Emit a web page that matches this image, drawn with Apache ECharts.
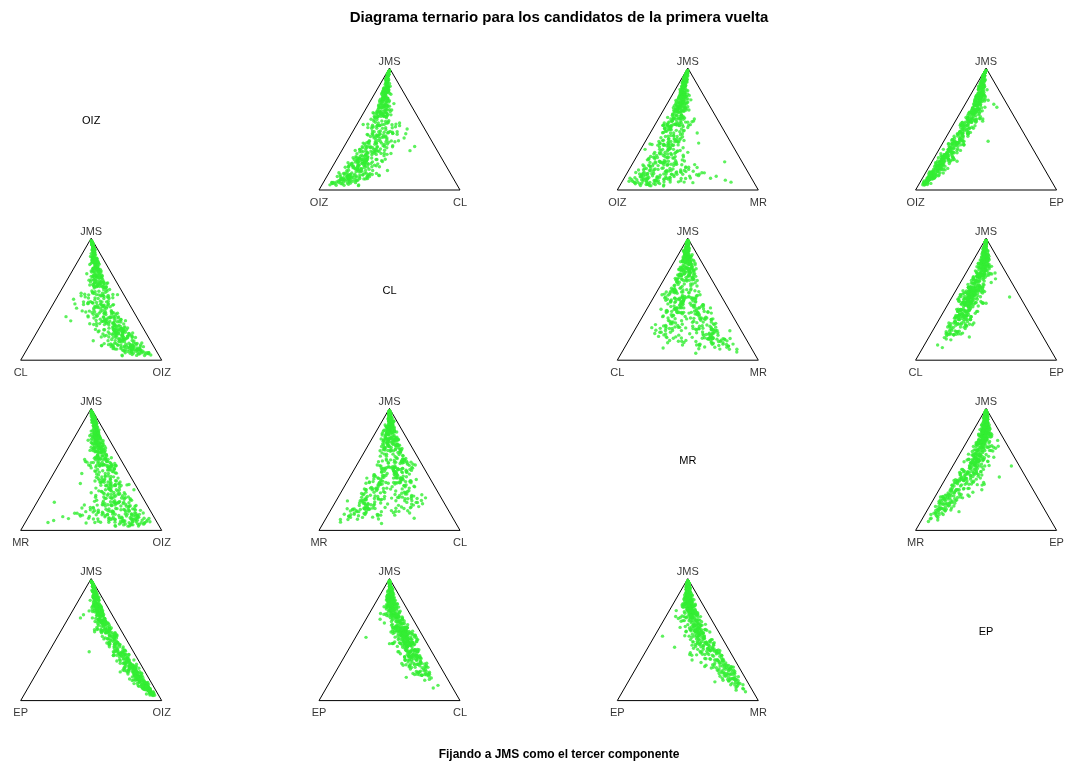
<!DOCTYPE html>
<html>
<head>
<meta charset="utf-8">
<script src="https://cdn.jsdelivr.net/npm/echarts@6.0.0/dist/echarts.min.js"></script>
<style>
  html, body { margin: 0; padding: 0; background: #fff; }
  #chart { width: 1067px; height: 762px; }
</style>
</head>
<body>
<div id="chart"></div>
<script>
// candidates besides JMS (rows = left vertex, columns = right vertex)
const candidates = ["OIZ", "CL", "MR", "EP"];
const topLabel = "JMS";

// vote shares per polling station, one entry per station
const jms = [
  3,5,4,7,4,9,6,3,8,5,3,6,4,10,7,3,5,8,4,6,
  6,9,4,11,7,12,5,8,10,5,7,9,6,11,4,8,12,5,10,7,
  12,15,18,11,20,14,22,16,13,19,10,17,21,15,12,18,14,20,16,13,
  17,24,19,27,15,22,26,18,21,28,16,25,20,23,19,27,17,24,22,26,
  28,32,21,35,25,30,23,33,27,31,24,34,29,22,36,26,30,33,25,28,
  38,42,31,45,35,40,33,44,37,41,32,39,43,36,34,46,30,42,38,35,
  48,52,41,55,45,50,43,54,47,51,42,49,53,46,44,56,40,52,48,45,
  58,53,61,55,50,59,56,62,52,57,54,60,51,58,63,55,53,59,56,61,
  62,66,58,70,64,68,60,67,63,69,57,65,71,61,66,59,68,64,70,62,
  70,74,66,77,72,68,75,71,78,65,73,69,76,67,74,71,63,79,72,70,
  78,82,75,85,80,77,83,79,86,76,81,84,78,88,80,74,82,87,79,83,
  88,91,85,93,89,86,92,90,87,94,84,90,91,88,86,93,89,85,92,90,
  5,8,5,10,6,12,5,9,7,14,5,11,8,6,13,5,9,7,10,15,
  18,22,15,25,20,16,28,19,24,17,21,26,14,23,20,30,18,27,22,16,
  30,40,45,35,20,25,50,28,33,55,18,42,38,26,60,22,48,36,15,31,
  8,14,22,11,27,18,9,25,16,30,12,20,24,10,28,15,19,13,26,21,
  33,45,38,52,41,58,36,49,44,55,31,47,39,60,42,35,53,46,37,50,
  58,72,64,80,61,76,68,83,57,70,66,78,63,74,85,60,69,77,62,73,
  4,7,12,6,15,9,5,18,8,11,6,14,10,7,16,5,13,9,20,8,
  82,88,76,91,79,85,90,77,86,80,92,78,84,89,81,87,75,83,90,86,
  65,72,61,78,68,74,63,70,76,66,79,62,71,67,75,64,69,73,77,60,
  90,94,87,95,92,89,93,88,96,91,86,94,90,93,89,95,92,88,91,94,
  45,58,50,63,42,55,48,61,53,46,60,44,57,51,64,47,54,59,43,52,
  25,38,30,42,22,35,28,44,33,27,40,24,36,31,45,29,37,26,41,34,
  7,10,6,13,8,11,9,14,6,12,8,10,15,7,11,9,13,6,10,12,
  30,42,26,48,35,38,28,45,33,40,27,50,36,31,44,29,39,34,47,32,
  55,62,48,68,52,58,45,65,60,50,70,47,57,63,53,66,49,59,64,56,
  5,6,8,4,10,7,12,9,6,15,20,25,8,11,35,40,18,7,9,14
];
const oiz = [
  67,67,63,71,64,66,74,59,66,65,64,71,67,63,62,61,71,71,63,66,
  62,65,66,65,58,67,68,63,59,64,68,63,60,67,66,66,65,59,61,66,
  60,60,60,59,60,60,54,57,56,58,61,62,54,57,62,63,54,53,60,57,
  59,54,53,53,59,55,47,61,54,43,62,57,50,53,55,52,56,53,59,49,
  46,46,52,45,51,41,56,42,50,41,57,40,41,56,40,47,49,44,47,47,
  36,36,41,31,45,33,44,31,34,38,42,37,35,36,41,34,43,35,36,41,
  28,27,32,23,30,30,31,23,25,30,34,26,26,27,34,26,34,25,27,35,
  22,24,21,21,29,22,22,21,23,23,23,24,27,21,18,21,27,23,22,22,
  18,16,19,14,17,11,23,13,15,16,19,17,15,18,15,19,15,16,14,20,
  14,12,16,11,13,15,12,13,11,16,13,16,12,15,12,13,17,11,13,13,
  10,8,11,7,9,10,8,9,7,10,9,7,9,6,9,11,8,6,9,8,
  5,3,6,2,4,7,3,4,6,2,8,3,4,5,6,2,5,7,3,4,
  40,35,45,30,42,28,38,33,44,26,36,32,39,41,29,47,34,37,31,25,
  35,30,38,28,33,40,26,32,29,36,31,27,42,30,34,24,37,28,32,39,
  10,5,6,15,45,38,8,20,25,10,48,12,18,40,6,42,14,28,50,22,
  55,50,42,58,38,47,60,40,52,35,56,45,43,62,36,51,48,57,41,46,
  38,27,33,20,30,15,36,25,28,18,40,24,34,14,29,37,21,26,35,22,
  20,12,16,8,18,10,14,6,22,13,15,9,17,11,5,19,14,10,18,12,
  68,60,55,64,50,58,70,48,62,56,66,52,59,63,49,72,54,61,45,65,
  8,4,12,3,10,6,4,11,5,9,3,12,7,4,8,5,13,7,3,6,
  16,10,18,6,14,9,17,12,8,15,6,19,11,13,9,16,12,10,7,20,
  4,2,6,1,3,5,2,6,1,4,7,2,5,3,5,2,3,6,4,2,
  30,18,25,14,33,20,28,15,22,29,16,31,19,24,12,27,21,17,32,23,
  45,32,40,28,50,36,42,26,38,44,30,48,34,40,25,43,33,46,29,37,
  48,40,52,36,45,42,50,34,55,38,46,44,32,50,40,47,37,53,43,39,
  30,20,35,15,25,22,32,18,28,21,34,14,24,29,19,33,23,27,16,26,
  18,12,22,10,20,15,25,11,14,21,8,24,16,13,19,9,23,17,12,15,
  12,18,22,10,25,15,28,20,30,8,12,10,35,30,15,10,40,45,38,26
];
const cl = [
  8,15,5,20,11,6,13,22,9,17,4,10,25,7,14,12,5,18,10,16,
  12,8,16,10,20,6,9,14,18,7,11,23,8,13,5,15,10,19,12,9,
  14,22,10,28,17,31,13,20,25,8,29,15,21,17,11,20,35,14,10,24,
  21,14,28,11,20,24,17,34,13,25,8,18,31,14,22,15,27,11,20,24,
  17,25,30,11,21,29,14,38,18,22,10,27,33,15,20,35,11,18,28,14,
  18,14,25,11,21,28,15,10,22,17,27,13,20,32,15,11,22,18,25,14,
  15,11,22,8,18,14,25,11,20,7,17,27,10,18,14,11,21,15,22,8,
  13,20,8,30,11,17,15,7,27,11,21,10,32,13,11,17,8,22,14,11,
  11,7,15,8,13,17,10,11,18,7,14,11,6,13,8,17,11,7,13,10,
  8,6,13,7,11,7,6,10,4,14,7,11,6,8,7,13,11,6,8,7,
  6,7,4,8,6,7,4,6,3,8,6,4,7,3,6,7,4,4,8,4,
  2,1,3,1,2,2,1,2,2,1,3,2,1,2,3,1,2,2,1,2,
  12,10,15,9,18,11,8,14,10,16,9,12,19,11,8,15,10,13,9,12,
  12,9,14,10,13,8,15,12,9,13,10,14,8,12,9,13,10,15,8,12,
  25,6,5,8,18,20,5,4,22,6,16,7,4,19,5,17,6,3,14,24,
  25,8,17,30,13,21,14,34,10,20,28,15,7,22,29,11,18,32,14,24,
  22,13,30,10,18,15,27,8,21,14,11,28,17,7,24,20,13,25,10,17,
  17,7,13,4,20,8,11,6,14,10,15,7,18,6,4,13,8,10,14,7,
  7,12,9,15,11,18,6,13,10,22,8,14,16,11,9,5,19,12,10,14,
  4,2,5,2,6,3,2,7,3,5,1,4,3,2,5,3,6,4,2,3,
  7,5,9,4,6,8,10,5,4,7,3,8,6,9,5,8,4,7,5,9,
  2,1,2,1,2,2,1,2,1,2,3,1,2,1,2,1,2,2,1,1,
  14,10,18,8,12,16,9,11,20,13,7,17,12,10,9,15,11,14,19,8,
  16,12,20,9,14,18,11,24,13,10,22,15,9,17,12,19,14,11,21,13,
  9,12,8,14,10,11,7,13,9,15,10,8,12,11,9,13,10,8,14,11,
  24,30,20,28,22,34,26,21,32,25,19,27,31,23,29,35,21,26,24,30,
  6,4,8,5,7,5,8,4,6,7,3,8,5,4,7,5,6,6,4,7,
  6,8,5,7,9,6,10,8,12,5,30,35,25,28,32,30,26,22,27,20
];
const mr = [
  12,7,22,5,16,10,4,28,14,9,19,6,11,24,3,17,8,13,30,15,
  14,9,8,18,12,5,22,11,7,26,8,15,20,10,17,6,13,16,21,11,
  17,10,23,9,14,16,21,27,12,18,13,8,20,26,16,7,12,25,17,13,
  12,21,14,23,16,8,26,12,18,13,29,9,16,22,10,20,13,25,8,17,
  13,9,16,20,12,18,23,8,14,26,13,10,17,21,8,14,25,13,9,20,
  12,17,9,16,13,7,20,10,17,8,13,22,7,10,16,8,18,13,7,20,
  9,16,10,17,7,13,9,20,12,14,7,9,17,12,5,13,9,7,16,10,
  7,10,9,13,5,9,14,7,10,16,7,10,9,5,13,7,10,8,5,12,
  7,10,5,9,14,7,10,5,8,12,7,9,5,10,7,8,5,12,7,10,
  5,7,9,4,5,10,5,7,5,9,4,5,7,10,5,4,9,4,7,5,
  4,3,5,2,4,4,3,5,2,4,3,4,2,3,5,4,2,3,4,3,
  2,2,1,1,2,2,1,2,2,1,2,1,2,2,1,1,2,2,1,1,
  30,38,26,40,24,45,34,28,22,36,42,30,25,33,27,22,36,30,44,32,
  22,25,18,28,20,24,17,26,21,29,18,22,25,16,30,20,24,18,27,21,
  6,4,3,5,10,4,5,3,4,6,12,8,5,3,4,2,7,4,9,5,
  8,26,18,12,23,7,32,10,21,14,5,29,25,9,13,35,16,8,20,12,
  10,21,8,16,23,9,13,18,7,12,26,8,20,14,10,16,9,7,22,13,
  8,10,7,5,9,12,13,4,16,7,8,5,10,8,3,14,9,4,7,10,
  16,20,24,12,28,10,18,22,14,9,25,17,11,20,26,13,8,21,30,15,
  3,2,4,1,3,5,2,3,4,2,2,5,3,3,2,4,3,2,3,2,
  5,6,4,3,7,4,5,8,3,6,4,5,7,4,6,5,8,3,4,6,
  2,1,3,1,1,2,2,2,1,1,2,2,1,2,2,1,1,2,2,1,
  10,13,7,12,15,8,14,9,6,11,12,7,10,15,8,9,13,6,11,14,
  12,15,9,18,10,13,17,8,14,16,11,9,19,12,15,10,13,17,8,14,
  22,28,18,32,25,20,24,35,19,30,26,21,33,23,27,18,29,20,25,31,
  16,20,14,22,17,18,15,21,19,16,14,22,18,15,20,17,16,19,21,15,
  9,12,8,14,10,7,13,11,9,12,8,10,14,7,11,9,12,8,10,13,
  45,38,32,48,30,40,26,35,28,42,20,10,22,12,25,11,24,16,22,12
];
const ep = [
  3,4,2,3,6,3,2,4,3,3,2,4,3,2,6,3,2,3,4,3,
  4,3,3,4,6,2,4,3,4,3,3,7,4,3,2,4,4,3,6,3,
  6,8,3,8,5,7,4,6,10,3,6,5,9,4,7,6,11,5,4,7,
  8,5,7,10,6,9,5,7,11,6,4,8,6,12,5,9,7,8,5,9,
  8,6,12,5,9,6,8,14,6,9,5,12,8,6,9,12,5,8,10,7,
  8,12,6,9,10,5,12,8,6,14,8,6,12,9,5,8,10,7,6,9,
  8,12,7,6,14,8,11,9,5,10,7,9,13,10,6,8,12,7,6,10,
  8,6,10,8,5,13,9,6,8,10,6,9,7,11,5,8,14,6,8,10,
  6,8,10,5,8,10,6,9,5,8,10,6,8,5,10,7,6,8,12,6,
  6,8,4,8,5,8,10,6,4,8,6,4,9,5,8,6,8,4,6,7,
  4,5,3,4,6,3,5,4,3,6,5,3,4,3,6,5,3,4,5,3,
  2,1,2,1,2,2,1,2,1,1,2,1,2,1,3,1,2,2,1,2,
  4,3,4,6,3,4,4,3,6,4,3,4,4,3,6,4,4,3,4,6,
  4,6,4,6,4,4,6,4,7,4,6,4,4,6,4,7,4,6,4,4,
  3,14,13,12,2,3,10,22,3,9,2,5,4,3,7,2,4,4,2,3,
  4,8,6,10,6,4,8,12,6,8,4,10,6,4,12,6,8,6,10,6,
  10,8,12,6,10,8,6,12,8,10,6,8,12,6,8,10,12,6,8,10,
  6,8,4,6,8,4,10,4,6,8,6,4,10,6,4,8,6,4,12,6,
  3,4,3,4,6,3,3,4,4,3,4,6,3,4,4,3,6,3,4,3,
  2,1,3,1,2,2,1,3,2,2,1,2,3,1,2,2,3,2,1,2,
  4,3,5,2,4,3,5,3,2,4,2,5,3,4,3,5,3,4,2,5,
  1,1,2,1,1,1,1,2,1,1,2,1,1,1,1,1,1,2,1,1,
  6,8,5,7,4,9,6,5,8,7,4,6,9,5,7,6,8,4,6,7,
  5,7,4,8,6,5,7,6,4,8,5,6,7,4,8,5,6,7,4,6,
  3,2,3,4,2,3,3,2,4,3,2,3,4,3,2,3,3,2,4,3,
  8,10,7,11,9,8,10,12,7,9,11,8,10,7,12,9,8,11,10,9,
  7,6,8,5,9,7,8,6,8,7,5,9,6,7,8,6,9,7,6,8,
  3,2,4,3,2,3,4,2,3,4,6,8,5,6,10,9,5,4,6,5
];
const shares = { OIZ: oiz, CL: cl, MR: mr, EP: ep };

const titleText = "Diagrama ternario para los candidatos de la primera vuelta";
const captionText = "Fijando a JMS como el tercer componente";

const FONT = "'Liberation Sans', Arial, sans-serif";
const H = Math.sqrt(3) / 2;

// ternary projection: left vertex at (0,0), right at (1,0), top at (0.5,H)
function ternary(top, left, right) {
  const s = top + left + right;
  return [(right + 0.5 * top) / s, (top / s) * H];
}

const chart = echarts.init(document.getElementById("chart"));

const grid = [];
const xAxis = [];
const yAxis = [];
const series = [];
const graphic = [];

const colStep = 298.3;
const rowStep = 170.2;

let k = 0;
candidates.forEach((rowName, r) => {
  candidates.forEach((colName, c) => {
    if (r === c) {
      graphic.push({
        type: "text",
        x: 91.2 + colStep * c,
        y: 121 + rowStep * r,
        style: {
          text: rowName,
          fill: "#000",
          font: `11px ${FONT}`,
          align: "center",
          verticalAlign: "middle",
        },
      });
      return;
    }
    grid.push({ left: 20.7 + colStep * c, top: 68 + rowStep * r, width: 141, height: 122 });
    xAxis.push({ type: "value", gridIndex: k, min: 0, max: 1, show: false });
    yAxis.push({ type: "value", gridIndex: k, min: 0, max: H, show: false });

    const left = shares[rowName];
    const right = shares[colName];

    series.push({
      type: "line",
      xAxisIndex: k,
      yAxisIndex: k,
      data: [[0, 0], [1, 0], [0.5, H], [0, 0]],
      symbol: "none",
      clip: false,
      silent: true,
      lineStyle: { color: "#000", width: 1 },
      z: 1,
    });
    series.push({
      type: "scatter",
      xAxisIndex: k,
      yAxisIndex: k,
      data: jms.map((t, i) => ternary(t, left[i], right[i])),
      symbol: "circle",
      symbolSize: 3.4,
      clip: false,
      silent: true,
      itemStyle: { color: "#33ee33" },
      z: 2,
    });
    series.push({
      type: "scatter",
      xAxisIndex: k,
      yAxisIndex: k,
      symbolSize: 0,
      clip: false,
      silent: true,
      label: { show: true, color: "#000", fontSize: 11, fontFamily: FONT },
      data: [
        { value: [0, 0], label: { formatter: rowName, position: "bottom", distance: 7 } },
        { value: [1, 0], label: { formatter: colName, position: "bottom", distance: 7 } },
        { value: [0.5, H], label: { formatter: topLabel, position: "top", distance: 1 } },
      ],
      z: 3,
    });
    k++;
  });
});

graphic.push({
  type: "text",
  x: 559,
  y: 18,
  style: {
    text: titleText,
    fill: "#000",
    font: `bold 15px ${FONT}`,
    align: "center",
    verticalAlign: "middle",
  },
});
graphic.push({
  type: "text",
  x: 559,
  y: 755,
  style: {
    text: captionText,
    fill: "#000",
    font: `bold 12px ${FONT}`,
    align: "center",
    verticalAlign: "middle",
  },
});

chart.setOption({
  animation: false,
  backgroundColor: "#fff",
  grid,
  xAxis,
  yAxis,
  series,
  graphic,
});
</script>
</body>
</html>
